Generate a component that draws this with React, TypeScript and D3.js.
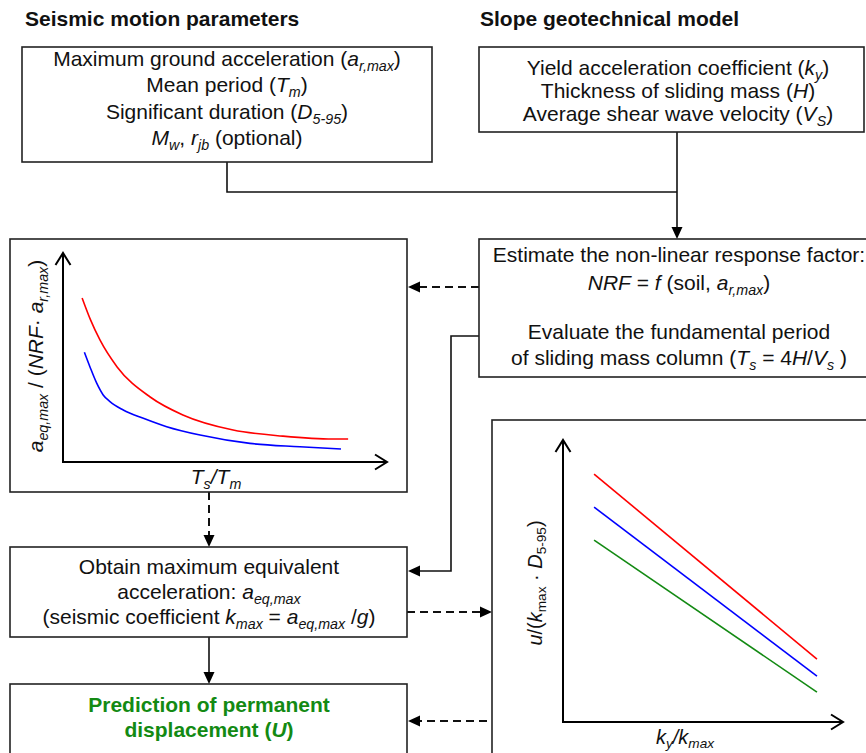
import React from "react";
import * as d3 from "d3";

type Seg = { t: string; i?: boolean; sub?: boolean };

// ---------- DATA ----------
const leftRedX = [0.059, 0.085, 0.114, 0.167, 0.269, 0.37, 0.525, 0.679, 0.833, 0.88];
const leftRed = [0.785, 0.68, 0.584, 0.455, 0.311, 0.225, 0.153, 0.124, 0.11, 0.11];
const leftBlueX = [0.066, 0.083, 0.104, 0.124, 0.145, 0.186, 0.248, 0.32, 0.423, 0.577, 0.731, 0.858];
const leftBlue = [0.525, 0.456, 0.377, 0.321, 0.289, 0.249, 0.209, 0.169, 0.129, 0.089, 0.073, 0.062];

const rightX = [0.111, 0.907];
const rightRed = [0.879, 0.223];
const rightBlue = [0.762, 0.163];
const rightGreen = [0.645, 0.106];

const titleSeismic = "Seismic motion parameters";
const titleSlope = "Slope geotechnical model";

const box1Lines: Seg[][] = [
  [{ t: "Maximum ground acceleration (" }, { t: "a", i: true }, { t: "r,max", i: true, sub: true }, { t: ")" }],
  [{ t: "Mean period (" }, { t: "T", i: true }, { t: "m", i: true, sub: true }, { t: ")" }],
  [{ t: "Significant duration (" }, { t: "D", i: true }, { t: "5-95", i: true, sub: true }, { t: ")" }],
  [{ t: "M", i: true }, { t: "w", i: true, sub: true }, { t: ", " }, { t: "r", i: true }, { t: "jb", i: true, sub: true }, { t: " (optional)" }],
];
const box2Lines: Seg[][] = [
  [{ t: "Yield acceleration coefficient (" }, { t: "k", i: true }, { t: "y", i: true, sub: true }, { t: ")" }],
  [{ t: "Thickness of sliding mass (" }, { t: "H", i: true }, { t: ")" }],
  [{ t: "Average shear wave velocity (" }, { t: "V", i: true }, { t: "S", i: true, sub: true }, { t: ")" }],
];
const estLines: Seg[][] = [
  [{ t: "Estimate the non-linear response factor:" }],
  [{ t: "NRF", i: true }, { t: " = " }, { t: "f", i: true }, { t: " (soil, " }, { t: "a", i: true }, { t: "r,max", i: true, sub: true }, { t: ")" }],
  [{ t: "Evaluate the fundamental period" }],
  [{ t: "of sliding mass column (" }, { t: "T", i: true }, { t: "s", i: true, sub: true }, { t: " = 4" }, { t: "H", i: true }, { t: "/" }, { t: "V", i: true }, { t: "s", i: true, sub: true }, { t: " )" }],
];
const obtLines: Seg[][] = [
  [{ t: "Obtain maximum equivalent" }],
  [{ t: "acceleration: " }, { t: "a", i: true }, { t: "eq,max", i: true, sub: true }],
  [{ t: "(seismic coefficient " }, { t: "k", i: true }, { t: "max", i: true, sub: true }, { t: " = " }, { t: "a", i: true }, { t: "eq,max", i: true, sub: true }, { t: " /" }, { t: "g", i: true }, { t: ")" }],
];
const predLines: Seg[][] = [
  [{ t: "Prediction of permanent" }],
  [{ t: "displacement (" }, { t: "U", i: true }, { t: ")" }],
];
const leftYLabel: Seg[] = [{ t: "a", i: true }, { t: "eq,max", i: true, sub: true }, { t: " / (" }, { t: "NRF", i: true }, { t: "· " }, { t: "a", i: true }, { t: "r,max", i: true, sub: true }, { t: ")" }];
const leftXLabel: Seg[] = [{ t: "T", i: true }, { t: "s", i: true, sub: true }, { t: "/", i: true }, { t: "T", i: true }, { t: "m", i: true, sub: true }];
const rightYLabel: Seg[] = [{ t: "u", i: true }, { t: "/(" }, { t: "k", i: true }, { t: "max", sub: true }, { t: " · " }, { t: "D", i: true }, { t: "5-95", sub: true }, { t: ")" }];
const rightXLabel: Seg[] = [{ t: "k", i: true }, { t: "y", i: true, sub: true }, { t: "/", i: true }, { t: "k", i: true }, { t: "max", i: true, sub: true }];

const FONT = "'Liberation Sans', Arial, Helvetica, sans-serif";
const FS = 21;

function Rich({ segs, x, y, size = FS, anchor = "middle", fill = "#111", weight = "normal", transform }: any) {
  let shifted = false;
  const off = size * 0.22;
  return (
    <text x={x} y={y} fontSize={size} textAnchor={anchor} fill={fill} fontWeight={weight} fontFamily={FONT} transform={transform}>
      {segs.map((s: Seg, k: number) => {
        let dy = 0;
        if (s.sub && !shifted) { dy = off; shifted = true; }
        else if (!s.sub && shifted) { dy = -off; shifted = false; }
        return (
          <tspan key={k} dy={dy || undefined} fontStyle={s.i ? "italic" : "normal"} fontSize={s.sub ? size * 0.68 : size}>
            {s.t}
          </tspan>
        );
      })}
    </text>
  );
}

function Lines({ lines, cx, baselines, ...rest }: any) {
  return <g>{lines.map((l: Seg[], k: number) => <Rich key={k} segs={l} x={cx} y={baselines[k]} {...rest} />)}</g>;
}

function FilledArrow({ x, y, dir }: { x: number; y: number; dir: "l" | "r" | "d" | "u" }) {
  const L = 12, W = 5.5;
  let p = "";
  if (dir === "l") p = `M${x},${y} L${x + L},${y - W} L${x + L},${y + W} Z`;
  if (dir === "r") p = `M${x},${y} L${x - L},${y - W} L${x - L},${y + W} Z`;
  if (dir === "d") p = `M${x},${y} L${x - W},${y - L} L${x + W},${y - L} Z`;
  if (dir === "u") p = `M${x},${y} L${x - W},${y + L} L${x + W},${y + L} Z`;
  return <path d={p} fill="#000" />;
}

function Axes({ x0, y0, x1, yTop }: any) {
  const a = 7.5, b = 12;
  return (
    <g stroke="#000" strokeWidth={2} fill="none">
      <path d={`M${x0},${yTop} L${x0},${y0} L${x1},${y0}`} />
      <path d={`M${x0 - a},${yTop + b} L${x0},${yTop} L${x0 + a},${yTop + b}`} />
      <path d={`M${x1 - b},${y0 - a} L${x1},${y0} L${x1 - b},${y0 + a}`} />
    </g>
  );
}

export default function App() {
  // left chart scales
  const lx = d3.scaleLinear().domain([0, 1]).range([63, 387]);
  const ly = d3.scaleLinear().domain([0, 1]).range([462, 253]);
  const lineL = d3.line<[number, number]>().x((d) => lx(d[0])).y((d) => ly(d[1])).curve(d3.curveMonotoneX);
  const redPts = leftRedX.map((v, k) => [v, leftRed[k]] as [number, number]);
  const bluePts = leftBlueX.map((v, k) => [v, leftBlue[k]] as [number, number]);

  // right chart scales
  const rx = d3.scaleLinear().domain([0, 1]).range([563, 843]);
  const ry = d3.scaleLinear().domain([0, 1]).range([722, 440]);
  const lineR = d3.line<[number, number]>().x((d) => rx(d[0])).y((d) => ry(d[1]));
  const mk = (ys: number[]) => rightX.map((v, k) => [v, ys[k]] as [number, number]);

  const box = { stroke: "#222", strokeWidth: 1.6, fill: "#fff" };
  const dash = "8 5";

  return (
    <svg width={866} height={753} style={{ position: "absolute", left: 0, top: 0, background: "#fff" }} fontFamily={FONT}>
      <rect width={866} height={753} fill="#fff" />
      {/* titles */}
      <text x={25} y={26} fontSize={FS} fontWeight="bold" fontFamily={FONT} fill="#111">{titleSeismic}</text>
      <text x={480} y={26} fontSize={FS} fontWeight="bold" fontFamily={FONT} fill="#111">{titleSlope}</text>

      {/* connectors */}
      <g stroke="#111" strokeWidth={1.6} fill="none">
        <path d="M227,162 L227,192 L677,192" />
        <path d="M677,132 L677,228" />
        <path d="M479,336 L451,336 L451,571 L419,571" />
        <path d="M209,637 L209,673" />
      </g>
      <g stroke="#111" strokeWidth={2} fill="none" strokeDasharray={dash}>
        <path d="M479,287 L420,287" />
        <path d="M209,492 L209,536" />
        <path d="M407,612 L481,612" />
        <path d="M487,721 L419,721" />
      </g>
      <FilledArrow x={677} y={239} dir="d" />
      <FilledArrow x={408} y={287} dir="l" />
      <FilledArrow x={408} y={571} dir="l" />
      <FilledArrow x={209} y={547} dir="d" />
      <FilledArrow x={492} y={612} dir="r" />
      <FilledArrow x={209} y={684} dir="d" />
      <FilledArrow x={408} y={721} dir="l" />

      {/* box 1 */}
      <rect x={22} y={47} width={410} height={115} {...box} />
      <Lines lines={box1Lines} cx={227} baselines={[66, 92, 119, 145]} />
      {/* box 2 */}
      <rect x={479} y={47} width={385} height={85} {...box} />
      <Lines lines={box2Lines} cx={678} baselines={[75, 98, 121]} />
      {/* estimate box */}
      <rect x={479} y={239} width={390} height={138} {...box} />
      <Lines lines={estLines} cx={679} baselines={[262, 290, 339, 365]} />

      {/* left chart */}
      <rect x={10} y={239} width={397} height={253} {...box} />
      <Axes x0={63} y0={462} x1={387} yTop={253} />
      <path d={lineL(redPts) || ""} stroke="#ff0000" strokeWidth={1.6} fill="none" />
      <path d={lineL(bluePts) || ""} stroke="#0000ff" strokeWidth={1.6} fill="none" />
      <Rich segs={leftYLabel} x={0} y={0} transform="translate(43,356) rotate(-90)" />
      <Rich segs={leftXLabel} x={216} y={484} />

      {/* obtain box */}
      <rect x={10} y={547} width={397} height={90} {...box} />
      <Lines lines={obtLines} cx={209} baselines={[574, 599, 624]} />

      {/* prediction box */}
      <rect x={10} y={684} width={397} height={80} {...box} />
      <Lines lines={predLines} cx={209} baselines={[712, 737]} fill="#138a13" weight="bold" />

      {/* right chart */}
      <rect x={492} y={420} width={380} height={345} {...box} />
      <Axes x0={563} y0={722} x1={843} yTop={440} />
      <path d={lineR(mk(rightRed)) || ""} stroke="#ff0000" strokeWidth={1.6} fill="none" />
      <path d={lineR(mk(rightBlue)) || ""} stroke="#0000ff" strokeWidth={1.6} fill="none" />
      <path d={lineR(mk(rightGreen)) || ""} stroke="#138a13" strokeWidth={1.6} fill="none" />
      <Rich segs={rightYLabel} x={0} y={0} size={20} transform="translate(542,583) rotate(-90)" />
      <Rich segs={rightXLabel} x={685} y={744} size={20} />
    </svg>
  );
}
